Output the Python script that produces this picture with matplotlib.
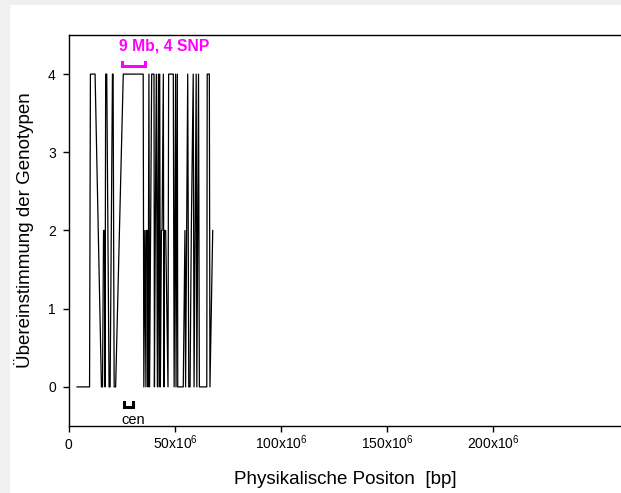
"""Genotype concordance along the chromosome."""

import matplotlib

matplotlib.use("Agg")
import matplotlib.pyplot as plt
from matplotlib.patches import Rectangle

plt.rcParams["font.family"] = ["Liberation Sans", "DejaVu Sans"]
plt.rcParams["mathtext.fontset"] = "custom"
plt.rcParams["mathtext.rm"] = "Liberation Sans"

# SNP positions (Mb) and genotype concordance
pos_mb = [
    3.8, 9.7, 10.1, 12.3, 15.3, 15.8, 16.3, 16.8, 17.0, 17.3, 17.8, 18.9,
    19.4, 20.5, 20.8, 21.3, 22.0, 25.6, 35.0,
    35.3, 35.8, 36.3, 36.5, 37.0, 37.3, 37.7, 38.0, 38.5, 39.0, 40.1,
    40.3, 40.7, 41.2, 41.7, 42.2, 42.5, 42.8, 43.1, 43.6, 43.9, 44.5,
    44.8, 45.0, 45.6, 46.7, 47.0, 49.2, 49.6, 50.3, 50.5, 51.1, 51.3,
    53.9, 54.7, 55.0, 56.0, 56.5, 57.1, 57.7, 58.6, 59.0, 60.0, 60.3,
    61.1, 61.5, 65.0, 65.2, 66.2, 66.5, 67.8,
]
concordance = [
    0, 0, 4, 4, 0, 0, 2, 2, 0, 4, 4, 0,
    0, 4, 4, 0, 0, 4, 4,
    0, 2, 0, 2, 2, 0, 4, 0, 2, 4, 4,
    0, 2, 4, 0, 4, 0, 4, 0, 2, 2, 4,
    0, 2, 2, 0, 4, 4, 0, 4, 0, 4, 0,
    0, 2, 0, 4, 0, 0, 2, 4, 0, 4, 0,
    4, 0, 0, 4, 4, 0, 2,
]

x_ticks = [0, 50e6, 100e6, 150e6, 200e6]
x_tick_labels = [r"$\mathregular{0}$", r"50x10$^{6}$", r"100x10$^{6}$",
                 r"150x10$^{6}$", r"200x10$^{6}$"]
y_ticks = [0, 1, 2, 3, 4]

fig = plt.figure(figsize=(6.21, 4.93), dpi=100)
fig.patch.set_facecolor("#f0f0f0")
panel = Rectangle((10 / 621, 0), 1, 488 / 493, transform=fig.transFigure,
                  facecolor="white", edgecolor="none", zorder=-10)
fig.add_artist(panel)

ax = fig.add_axes([69 / 621, 67 / 493, 552 / 621, 391 / 493])
ax.set_facecolor("white")

ax.plot([p * 1e6 for p in pos_mb], concordance, color="black", lw=0.9)

# magenta marker: 9 Mb, 4 SNP
b0, b1 = 25.1e6, 35.8e6
ax.plot([b0, b0, b1, b1], [4.16, 4.10, 4.10, 4.16], color="#ff00ff", lw=2.2,
        solid_joinstyle="miter", clip_on=False)
ax.text(23.6e6, 4.36, "9 Mb, 4 SNP", color="#ff00ff", fontsize=11.3,
        fontweight="bold", ha="left", va="center")

# centromere
c0, c1 = 25.8e6, 30.1e6
ax.plot([c0, c0, c1, c1], [-0.19, -0.26, -0.26, -0.19], color="black", lw=2.2,
        solid_joinstyle="miter")
ax.text(30.2e6, -0.47, "cen", fontsize=10.5, ha="center", va="baseline")

ax.set_xlim(0, 260.4e6)
ax.set_ylim(-0.5, 4.5)
ax.set_xticks(x_ticks)
ax.set_xticklabels(x_tick_labels, va="baseline")
ax.set_yticks(y_ticks)
ax.tick_params(direction="out", length=4.5, width=1, labelsize=10)
ax.tick_params(axis="x", pad=12)
ax.tick_params(axis="y", pad=5)
ax.spines["right"].set_visible(False)
for side in ("left", "top", "bottom"):
    ax.spines[side].set_linewidth(1.0)

ax.set_xlabel("Physikalische Positon  [bp]", fontsize=13.5, labelpad=14)
ax.set_ylabel("Übereinstimmung der Genotypen", fontsize=13.5, labelpad=10)

fig.savefig("out.png", dpi=100, facecolor=fig.get_facecolor())
